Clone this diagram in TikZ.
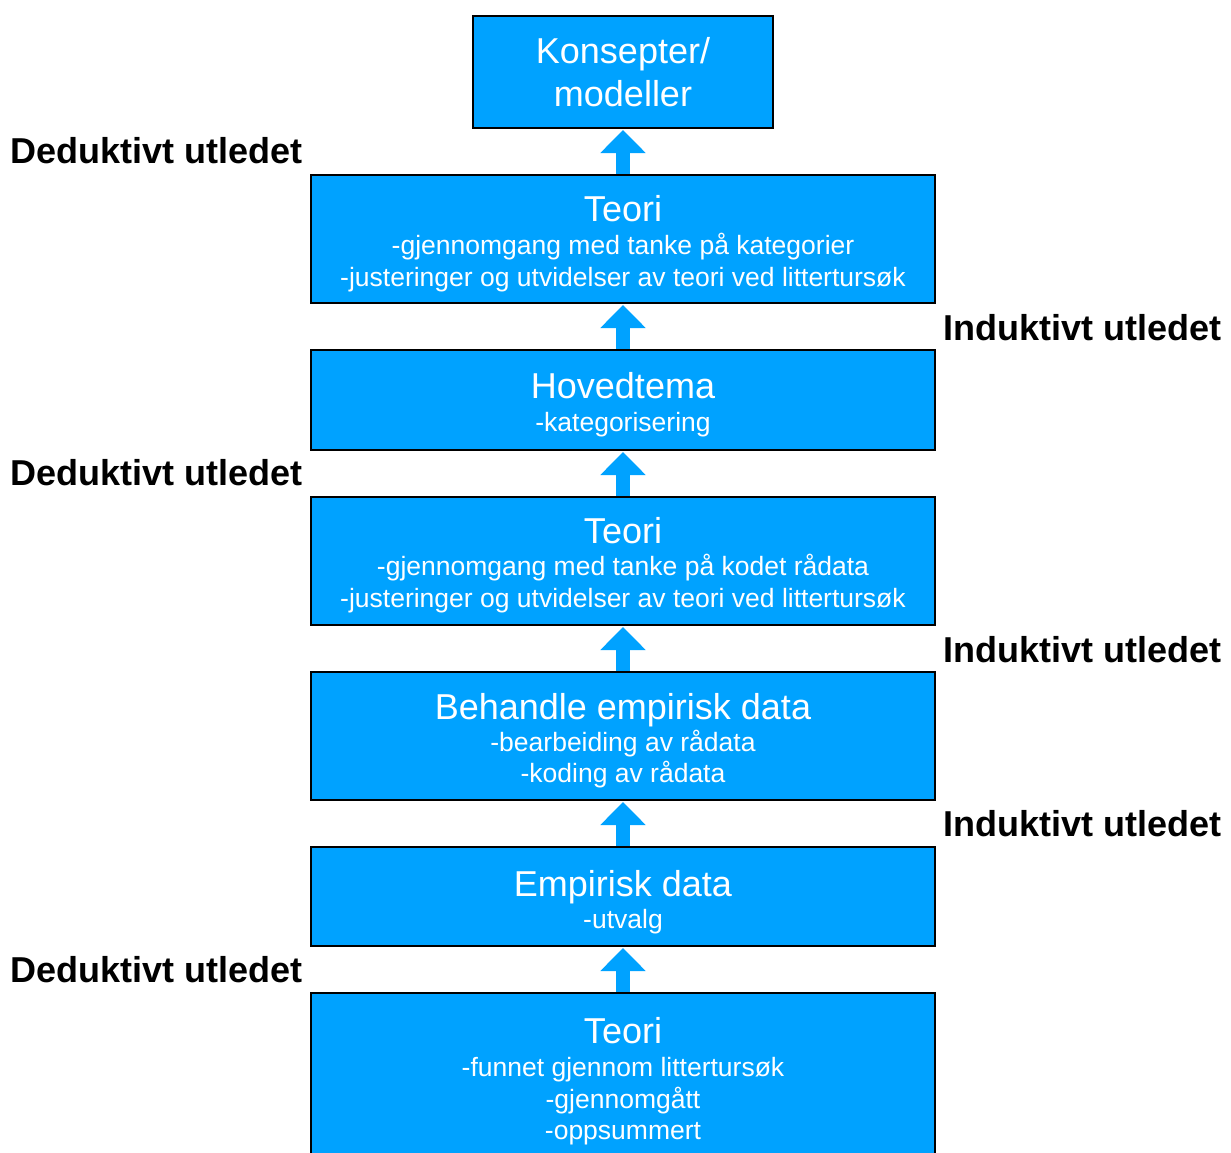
\documentclass[tikz,border=0pt]{standalone}
\usepackage{fontspec}
\setmainfont{Liberation Sans}
\usetikzlibrary{arrows.meta,calc}
\definecolor{boxblue}{HTML}{00A2FF}
\tikzset{
  box/.style={draw=black, line width=1.5pt, fill=boxblue, inner sep=0pt, outer sep=0pt},
  ttl/.style={anchor=base, text=white, inner sep=0pt, font=\fontsize{36}{40}\selectfont},
  sub/.style={anchor=base, text=white, inner sep=0pt, font=\fontsize{26.5}{30}\selectfont},
  side/.style={inner sep=0pt, text=black, font=\fontsize{36}{40}\selectfont\bfseries},
  conn/.style={draw=boxblue, line width=14pt, -{Triangle[width=44pt,length=23pt]}},
}
\begin{document}
\begin{tikzpicture}[x=1pt,y=-1pt]
\clip (0,0) rectangle (1231,1153);
\fill[white] (0,0) rectangle (1231,1153);
% boxes
\node[box, minimum width=300pt, minimum height=112pt] (k) at (623,72) {};
\node[box, minimum width=624pt, minimum height=128pt] (t1) at (623,239) {};
\node[box, minimum width=624pt, minimum height=100pt] (h) at (623,400) {};
\node[box, minimum width=624pt, minimum height=128pt] (t2) at (623,561) {};
\node[box, minimum width=624pt, minimum height=128pt] (b) at (623,736) {};
\node[box, minimum width=624pt, minimum height=99pt] (e) at (623,896.5) {};
\node[box, minimum width=624pt, minimum height=200pt] (t3) at (623,1093) {};
% texts
\node[ttl] (k1) at (623,64) {Konsepter/};
\node[ttl] (k2) at (623,107) {modeller};
\node[ttl] (t1a) at (623,221) {Teori};
\node[sub] (t1b) at (623,254) {-gjennomgang med tanke på kategorier};
\node[sub] (t1c) at (623,286) {-justeringer og utvidelser av teori ved littertursøk};
\node[ttl] (ha) at (623,398) {Hovedtema};
\node[sub] (hb) at (623,431) {-kategorisering};
\node[ttl] (t2a) at (623,543) {Teori};
\node[sub] (t2b) at (623,575) {-gjennomgang med tanke på kodet rådata};
\node[sub] (t2c) at (623,607) {-justeringer og utvidelser av teori ved littertursøk};
\node[ttl] (ba) at (623,719) {Behandle empirisk data};
\node[sub] (bb) at (623,751) {-bearbeiding av rådata};
\node[sub] (bc) at (623,782) {-koding av rådata};
\node[ttl] (ea) at (623,896) {Empirisk data};
\node[sub] (eb) at (623,928) {-utvalg};
\node[ttl] (t3a) at (623,1043) {Teori};
\node[sub] (t3b) at (623,1076) {-funnet gjennom littertursøk};
\node[sub] (t3c) at (623,1108) {-gjennomgått};
\node[sub] (t3d) at (623,1139) {-oppsummert};
% side labels
\node[side, anchor=base east] (d1) at (303,164) {Deduktivt utledet};
\node[side, anchor=base west] (i1) at (943,340) {Induktivt utledet};
\node[side, anchor=base east] (d2) at (303,485) {Deduktivt utledet};
\node[side, anchor=base west] (i2) at (943,662) {Induktivt utledet};
\node[side, anchor=base west] (i3) at (943,836) {Induktivt utledet};
\node[side, anchor=base east] (d3) at (303,982) {Deduktivt utledet};
% arrows
\draw[conn] ($(t1.north)+(0,-1.5)$) -- ($(k.south)+(0,2)$);
\draw[conn] ($(h.north)+(0,-1.5)$) -- ($(t1.south)+(0,2)$);
\draw[conn] ($(t2.north)+(0,-1.5)$) -- ($(h.south)+(0,2)$);
\draw[conn] ($(b.north)+(0,-1.5)$) -- ($(t2.south)+(0,2)$);
\draw[conn] ($(e.north)+(0,-1.5)$) -- ($(b.south)+(0,2)$);
\draw[conn] ($(t3.north)+(0,-1.5)$) -- ($(e.south)+(0,2)$);
\end{tikzpicture}
\end{document}
